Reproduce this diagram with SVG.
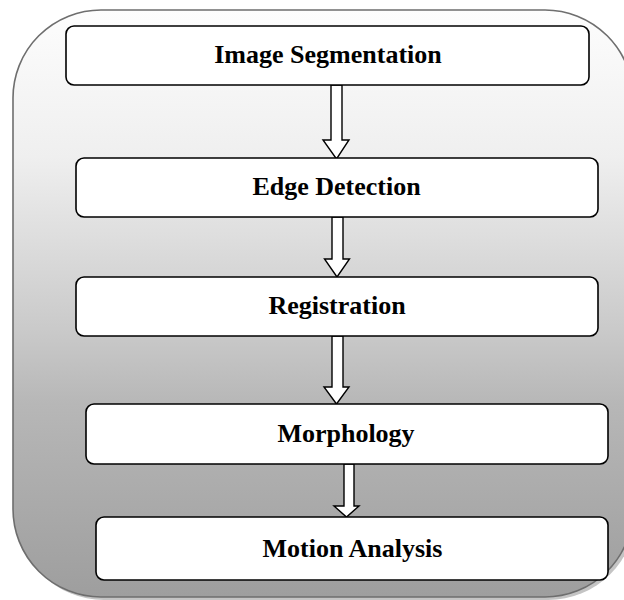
<svg xmlns="http://www.w3.org/2000/svg" width="624" height="600" viewBox="0 0 624 600">
<defs>
<linearGradient id="bg" x1="0" y1="0" x2="0" y2="1">
<stop offset="0" stop-color="#fdfdfd"/>
<stop offset="0.25" stop-color="#efefef"/>
<stop offset="0.55" stop-color="#c9c9c9"/>
<stop offset="0.67" stop-color="#b7b7b7"/>
<stop offset="1" stop-color="#9e9e9e"/>
</linearGradient>
</defs>
<style>
.box{fill:#ffffff;stroke:#000000;stroke-width:1.6}
.lbl{font-family:"Liberation Serif","Times New Roman",serif;font-weight:bold;font-size:26px;fill:#000000;text-anchor:middle}
.arr{fill:#ffffff;stroke:#000000;stroke-width:1.4;stroke-linejoin:miter}
</style>
<rect width="624" height="600" fill="#ffffff"/>
<g id="container">
<rect x="16" y="13" width="620" height="587" rx="88" ry="88" fill="#c4c4c4"/>
<rect x="13" y="10" width="620" height="587" rx="88" ry="88" fill="url(#bg)" stroke="#6e6e6e" stroke-width="1.6"/>
</g>
<g id="connectors">
<polygon class="arr" points="331,85 342,85 342,140 349,140 336.5,159 323,140 331,140"/>
<polygon class="arr" points="332,217 343,217 343,259 349.5,259 337,277 324.5,259 332,259"/>
<polygon class="arr" points="332,336 343,336 343,387 349,387 336.5,404 324,387 332,387"/>
<polygon class="arr" points="344,464 354,464 354,506 359,506 346.5,517 334,506 344,506"/>
</g>
<g id="node1">
<rect class="box" x="66" y="26" width="523" height="59" rx="8" ry="8"/>
<text class="lbl" x="328" y="63">Image Segmentation</text>
</g>
<g id="node2">
<rect class="box" x="76" y="158" width="522" height="59" rx="8" ry="8"/>
<text class="lbl" x="336.5" y="195">Edge Detection</text>
</g>
<g id="node3">
<rect class="box" x="76" y="277" width="522" height="59" rx="8" ry="8"/>
<text class="lbl" x="337" y="314">Registration</text>
</g>
<g id="node4">
<rect class="box" x="86" y="404" width="522" height="60" rx="8" ry="8"/>
<text class="lbl" x="346" y="442">Morphology</text>
</g>
<g id="node5">
<rect class="box" x="96" y="517" width="512" height="63" rx="8" ry="8"/>
<text class="lbl" x="352.5" y="557">Motion Analysis</text>
</g>
</svg>
